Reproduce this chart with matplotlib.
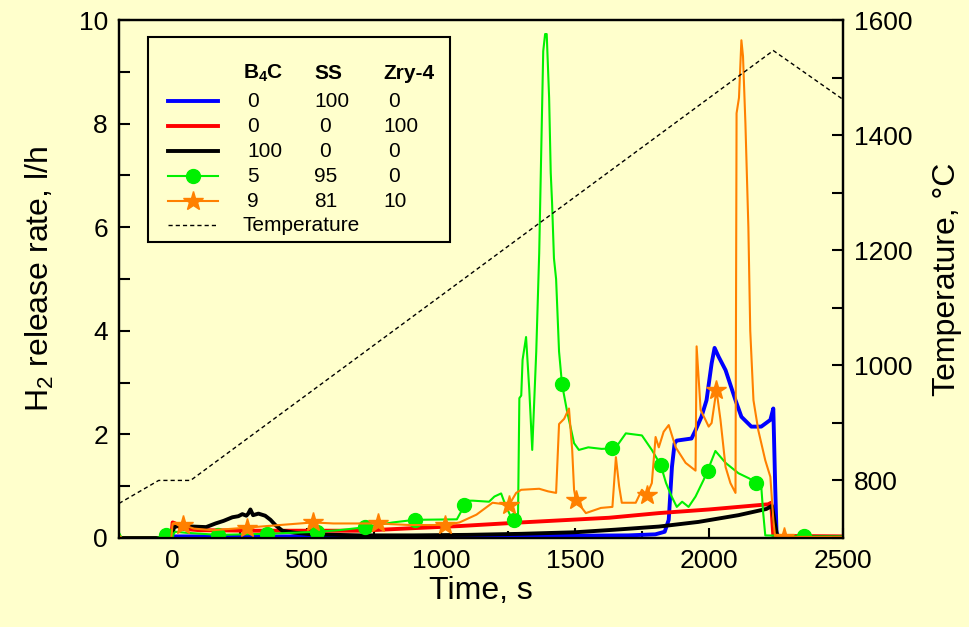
import numpy as np
import matplotlib
matplotlib.use("Agg")
import matplotlib.pyplot as plt
from matplotlib.lines import Line2D
from matplotlib.patches import Rectangle
from matplotlib.ticker import MultipleLocator

plt.rcParams['font.family'] = ['Liberation Sans', 'DejaVu Sans']
plt.rcParams['mathtext.fontset'] = 'custom'
plt.rcParams['mathtext.rm'] = 'Liberation Sans'
plt.rcParams['mathtext.it'] = 'Liberation Sans'
plt.rcParams['mathtext.bf'] = 'Liberation Sans:bold'

# ---- temperature program ----
temp_t = [-200, -52, 67, 2240, 2500]
temp_T = [760, 800, 800, 1547, 1462]

# ---- H2 release, B4C/SS/Zry-4 = 0/100/0 ----
ss_t = [-200, -10, 0, 200, 600, 1000, 1400, 1700, 1800, 1835, 1850, 1862, 1872, 1880, 1935,
        1950, 1972, 1991, 2010, 2021, 2036, 2062, 2099, 2121, 2158, 2195, 2229, 2240, 2247, 2252, 2260, 2500]
ss_v = [0.0, 0.0, 0.03, 0.03, 0.03, 0.03, 0.04, 0.05, 0.07, 0.12, 0.35, 1.37, 1.83, 1.88, 1.92,
        2.08, 2.34, 2.66, 3.37, 3.67, 3.5, 3.24, 2.66, 2.34, 2.15, 2.15, 2.28, 2.5, 1.0, 0.1, 0.02, 0.02]

# ---- 0/0/100 ----
zry_t = [-200, -5, 0, 10, 30, 100, 300, 500, 700, 900, 1070, 1300, 1627, 1813, 2000, 2221, 2232, 2240, 2500]
zry_v = [0.0, 0.0, 0.3, 0.28, 0.18, 0.15, 0.14, 0.14, 0.14, 0.19, 0.23, 0.3, 0.39, 0.48, 0.55, 0.65, 0.68, 0.04, 0.03]

# ---- 100/0/0 ----
b4c_t = [-200, -5, 5, 20, 75, 125, 160, 190, 223, 245, 260, 275, 282, 290, 300, 320, 345, 365, 383, 409,
         457, 520, 700, 900, 1100, 1300, 1500, 1650, 1813, 1961, 2110, 2214, 2235, 2245, 2255, 2500]
b4c_v = [0.0, 0.0, 0.2, 0.24, 0.22, 0.21, 0.28, 0.33, 0.4, 0.42, 0.46, 0.43, 0.47, 0.55, 0.44, 0.47, 0.43,
         0.35, 0.25, 0.14, 0.1, 0.07, 0.05, 0.05, 0.06, 0.08, 0.11, 0.16, 0.22, 0.31, 0.44, 0.56, 0.62, 0.3, 0.02, 0.01]

# ---- 5/95/0 ----
mix1_t = [-200, -190, -60, -26, 0, 10, 50, 171, 353, 539, 620, 706, 821, 903, 1060, 1080, 1095, 1120, 1180,
          1200, 1225, 1240, 1262, 1274, 1288, 1293, 1300, 1305, 1318, 1330, 1341, 1356, 1367, 1382, 1389,
          1395, 1404, 1410, 1415, 1422, 1430, 1441, 1452, 1470, 1497, 1515, 1550, 1600, 1638, 1660, 1690,
          1720, 1750, 1787, 1820, 1840, 1861, 1880, 1900, 1924, 1950, 1980, 1995, 2024, 2062, 2110, 2150,
          2177, 2195, 2202, 2210, 2355, 2500]
mix1_v = [0.1, 0.0, 0.0, 0.05, 0.05, 0.12, 0.1, 0.06, 0.08, 0.12, 0.15, 0.2, 0.3, 0.35, 0.36, 0.55, 0.72, 0.72, 0.7,
          0.8, 0.86, 0.65, 0.4, 0.35, 0.4, 2.7, 2.75, 3.44, 3.88, 2.86, 1.7, 3.6, 5.5, 9.4, 9.73,
          9.73, 8.5, 7.05, 6.47, 5.4, 5.0, 3.6, 2.97, 2.47, 1.83, 1.7, 1.75, 1.72, 1.73, 1.8, 2.02,
          2.0, 1.98, 1.7, 1.41, 1.06, 0.8, 0.6, 0.7, 0.6, 0.8, 1.12, 1.3, 1.68, 1.45, 1.25, 1.15,
          1.06, 1.0, 0.5, 0.05, 0.03, 0.03]
mix1_marks = [-26, 171, 353, 539, 717, 903, 1088, 1274, 1452, 1638, 1820, 1995, 2177, 2355]

# ---- 9/81/10 ----
mix2_t = [-200, -190, -5, 0, 37, 80, 150, 279, 400, 524, 600, 698, 765, 884, 1014, 1070, 1133, 1193, 1255,
          1281, 1300, 1367, 1400, 1430, 1441, 1460, 1478, 1490, 1497, 1504, 1541, 1597, 1640, 1653, 1665,
          1675, 1727, 1750, 1768, 1787, 1801, 1813, 1831, 1850, 1876, 1913, 1950, 1954, 1969, 1987, 1999,
          2010, 2028, 2043, 2062, 2080, 2099, 2103, 2112, 2121, 2127, 2136, 2147, 2154, 2166, 2184, 2210,
          2229, 2240, 2247, 2500]
mix2_v = [0.05, 0.0, 0.0, 0.28, 0.25, 0.18, 0.15, 0.2, 0.25, 0.3, 0.28, 0.28, 0.28, 0.25, 0.25, 0.3, 0.45, 0.68, 0.64,
          0.87, 0.93, 0.95, 0.9, 0.87, 2.2, 2.3, 2.5, 1.7, 0.93, 0.73, 0.48, 0.58, 0.6, 1.56, 1.0,
          0.68, 0.68, 0.93, 0.83, 1.06, 1.95, 1.75, 2.05, 2.18, 1.75, 1.45, 1.3, 3.7, 2.47, 2.28, 2.15,
          2.22, 2.86, 2.28, 1.37, 1.06, 0.87, 8.2, 8.5, 9.61, 9.3, 8.0, 6.0, 4.0, 2.66, 2.08, 1.5,
          1.18, 0.35, 0.02, 0.02]
mix2_marks = [37, 279, 524, 765, 1014, 1255, 1504, 1768, 2028, 2280]

bg = '#FFFFCC'
green = '#00F000'
orange = '#FF8000'
dash = (0, (3.0, 2.2))

fig = plt.figure(figsize=(9.69, 6.27), dpi=100, facecolor=bg)
ax = fig.add_axes([0.1228, 0.142, 0.7472, 0.826])
ax.set_facecolor(bg)

ax.plot(ss_t, ss_v, color='#0000FF', lw=2.8, zorder=3)
ax.plot(zry_t, zry_v, color='#FF0000', lw=2.8, zorder=3)
ax.plot(b4c_t, b4c_v, color='black', lw=2.8, zorder=4)
ax.plot(mix1_t, mix1_v, color=green, lw=1.5, zorder=5)
ax.plot(mix1_marks, np.interp(mix1_marks, mix1_t, mix1_v), ls='none', marker='o',
        ms=10, color=green, zorder=5)
ax.plot(mix2_t, mix2_v, color=orange, lw=1.5, zorder=6)
ax.plot(mix2_marks, np.interp(mix2_marks, mix2_t, mix2_v), ls='none', marker='*',
        ms=15, color=orange, zorder=6)

ax.set_xlim(-200, 2500)
ax.set_ylim(0, 10)
ax.xaxis.set_major_locator(MultipleLocator(500))
ax.xaxis.set_minor_locator(MultipleLocator(250))
ax.yaxis.set_major_locator(MultipleLocator(2))
ax.yaxis.set_minor_locator(MultipleLocator(1))
ax.tick_params(axis='both', which='both', direction='in', labelsize=19, width=1.5)
ax.tick_params(axis='y', which='both', length=8, pad=8)
ax.tick_params(axis='x', which='major', length=7, pad=8)
ax.tick_params(axis='x', which='minor', length=5)
ax.tick_params(top=False, right=False)
for s in ax.spines.values():
    s.set_linewidth(1.6)

ax.set_xlabel('Time, s', fontsize=23, labelpad=2)
ax.set_ylabel('H$_2$ release rate, l/h', fontsize=23, labelpad=16)

ax2 = ax.twinx()
ax2.plot(temp_t, temp_T, color='black', lw=1.0, ls=dash, zorder=7)
ax2.set_ylim(700, 1600)
ax2.yaxis.set_major_locator(MultipleLocator(200))
ax2.yaxis.set_minor_locator(MultipleLocator(100))
ax2.tick_params(axis='y', which='both', direction='in', length=8, width=1.5, labelsize=19, pad=8)
for s in ax2.spines.values():
    s.set_linewidth(1.6)
ax2.set_ylabel('Temperature, \u00b0C', fontsize=23, labelpad=14)

# legend block drawn in axes-fraction coordinates
tr = ax2.transAxes
def fx(px):
    return (px - 119) / 724.0
def fy(py):
    return (538 - py) / 518.0

ax2.add_patch(Rectangle((fx(148), fy(242)), fx(450) - fx(148), fy(37) - fy(242), transform=tr,
                        facecolor=bg, edgecolor='black', lw=1.5, zorder=10))
fs = 15
ax2.text(fx(243), fy(73), r'$\mathbf{B_4C}$', transform=tr, fontsize=fs, va='center', ha='left', zorder=11)
ax2.text(fx(314), fy(73), 'SS', transform=tr, fontsize=fs, fontweight='bold', va='center', ha='left', zorder=11)
ax2.text(fx(383), fy(73), 'Zry-4', transform=tr, fontsize=fs, fontweight='bold', va='center', ha='left', zorder=11)

rows_y = [101, 126, 151, 176, 201]
styles = [dict(color='#0000FF', lw=2.8), dict(color='#FF0000', lw=2.8), dict(color='black', lw=2.8),
          dict(color=green, lw=1.5, marker='o', ms=10), dict(color=orange, lw=1.5, marker='*', ms=15)]
col_b4c = ['0', '0', '100', '5', '9']
col_ss = ['100', '0', '0', '95', '81']
col_zry = ['0', '100', '0', '0', '10']
ss_x = [314, 319, 319, 314, 314]
zry_x = [388, 383, 388, 388, 383]
for y, st, a, b, c, bx, cx in zip(rows_y, styles, col_b4c, col_ss, col_zry, ss_x, zry_x):
    xs = [fx(168), fx(193), fx(218)]
    ln = Line2D(xs, [fy(y)] * 3, transform=tr, zorder=11, markevery=[1], **st)
    ax2.add_line(ln)
    ax2.text(fx(247), fy(y), a, transform=tr, fontsize=fs, va='center', ha='left', zorder=11)
    ax2.text(fx(bx), fy(y), b, transform=tr, fontsize=fs, va='center', ha='left', zorder=11)
    ax2.text(fx(cx), fy(y), c, transform=tr, fontsize=fs, va='center', ha='left', zorder=11)
ax2.add_line(Line2D([fx(168), fx(218)], [fy(225), fy(225)], transform=tr, color='black', lw=1.0,
                    ls=dash, zorder=11))
ax2.text(fx(243), fy(225), 'Temperature', transform=tr, fontsize=fs, va='center', ha='left', zorder=11)

fig.savefig('out.png', dpi=100, facecolor=bg)
